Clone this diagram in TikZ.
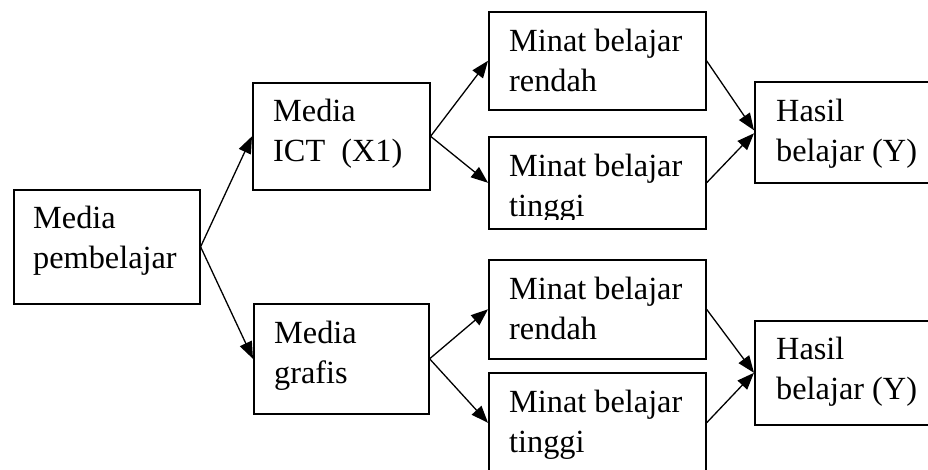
\documentclass[tikz,border=0pt]{standalone}
\usepackage{fontspec}
\setmainfont{Liberation Serif}
\usetikzlibrary{arrows.meta,calc}
\begin{document}
\begin{tikzpicture}[x=1pt,y=-1pt,
  box/.style={draw, line width=1.6pt, inner sep=0pt, anchor=north west},
  txt/.style={inner sep=0pt, anchor=base west, align=left, font=\fontsize{32.3}{40}\selectfont},
  arr/.style={-{Triangle[length=17pt,width=13pt]}, line width=1.3pt}]
\useasboundingbox[fill=white] (0,0) rectangle (928,470);
% boxes
\node[box, minimum width=186pt, minimum height=114pt] (A) at (13,189) {};
\node[box, minimum width=177pt, minimum height=107pt] (B) at (252,82) {};
\node[box, minimum width=217pt, minimum height=98pt] (C1) at (488,11) {};
\node[box, minimum width=217pt, minimum height=92pt] (C2) at (488,136) {};
\node[box, minimum width=180pt, minimum height=101pt] (D1) at (754,81) {};
\node[box, minimum width=175pt, minimum height=110pt] (E) at (253,303) {};
\node[box, minimum width=217pt, minimum height=99pt] (C3) at (488,259) {};
\node[box, minimum width=217pt, minimum height=100pt] (C4) at (488,372) {};
\node[box, minimum width=180pt, minimum height=104pt] (D2) at (754,320) {};
% texts (base anchor = baseline of the last line)
\node[txt] (At) at ([shift={(20,80)}]A.north west) {Media\\pembelajar};
\node[txt] (Bt) at ([shift={(21,80)}]B.north west) {Media\\ICT~ (X1)};
\node[txt] (C1t) at ([shift={(21,81)}]C1.north west) {Minat belajar\\rendah};
\begin{scope}
\clip ([shift={(0,0)}]C2.north west) rectangle ([shift={(0,-10)}]C2.south east);
\node[txt] (C2t) at ([shift={(21,81)}]C2.north west) {Minat belajar\\tinggi};
\end{scope}
\node[txt] (D1t) at ([shift={(22,81)}]D1.north west) {Hasil\\belajar (Y)};
\node[txt] (Et) at ([shift={(21,80)}]E.north west) {Media\\grafis};
\node[txt] (C3t) at ([shift={(21,80)}]C3.north west) {Minat belajar\\rendah};
\node[txt] (C4t) at ([shift={(21,80)}]C4.north west) {Minat belajar\\tinggi};
\node[txt] (D2t) at ([shift={(22,79)}]D2.north west) {Hasil\\belajar (Y)};
% connectors
\draw[arr] (A.east) -- (B.west);
\draw[arr] (A.east) -- (E.west);
\draw[arr] (B.east) -- (C1.west);
\draw[arr] (B.east) -- (C2.west);
\draw[arr] (E.east) -- (C3.west);
\draw[arr] (E.east) -- (C4.west);
\draw[arr] (C1.east) -- ([yshift=2pt]D1.west);
\draw[arr] (C2.east) -- ([yshift=-1pt]D1.west);
\draw[arr] (C3.east) -- (D2.west);
\draw[arr] (C4.east) -- (D2.west);
\end{tikzpicture}
\end{document}
